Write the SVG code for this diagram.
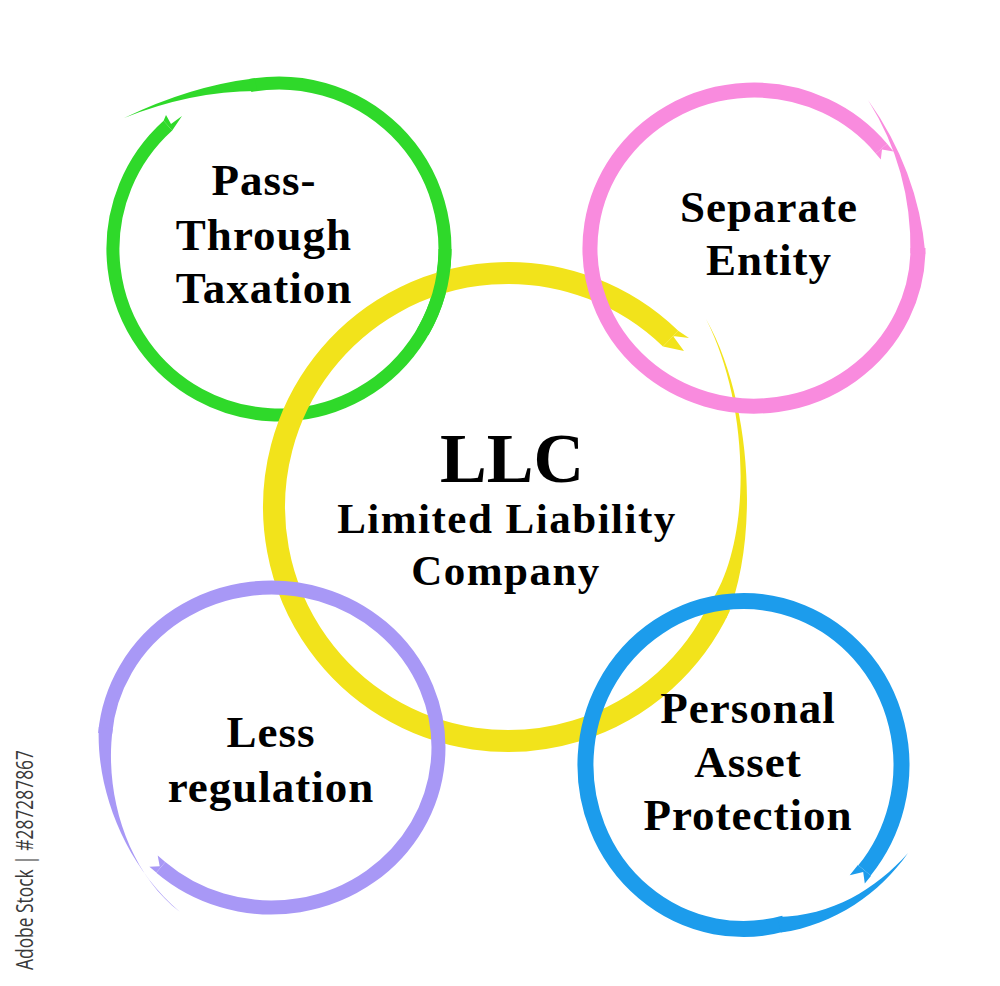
<svg xmlns="http://www.w3.org/2000/svg" width="1000" height="986" viewBox="0 0 1000 986">
<style>
.t{font-family:"Liberation Serif","Times New Roman",serif;font-weight:bold;fill:#000;text-anchor:middle;font-size:45px;letter-spacing:1px}
.ring{fill:none;stroke-linecap:butt}
.g{stroke:#2fd92a}.gf{fill:#2fd92a}
.p{stroke:#f98bde}.pf{fill:#f98bde}
.y{stroke:#f2e31b}.yf{fill:#f2e31b}
.v{stroke:#a898f6}.vf{fill:#a898f6}
.b{stroke:#1c9cec}.bf{fill:#1c9cec}
</style>
<rect width="1000" height="986" fill="#fff"/>

<g id="node-pass-through">
  <path class="ring g" stroke-width="13" d="M250.2,85.5 A166,166 0 1 1 167.9,125.6"/>
  <path class="gf" d="M255,78.2 Q190,86 124,118 Q192,91 256.8,91.05 Z"/>
  <polygon class="gf" points="163.6,120.8 166,115 171,124 182,116 172.2,130.4"/>
  <text class="t" x="264" y="195">Pass-</text>
  <text class="t" x="264" y="250">Through</text>
  <text class="t" x="264" y="303">Taxation</text>
</g>

<g id="node-llc">
  <path class="ring y" stroke-width="22" d="M720.1,605.9 A234,234 0 1 1 670.6,338.7"/>
  <path class="yf" d="M726.3,618.2 C760,540 752,400 706,319 C750,405 754,545 706.7,608.2 Z"/>
  <polygon class="yf" points="678.2,330.8 689,338 673,336 684,351 663,346.6"/>
  <text class="t" x="512" y="482" style="font-size:70px;letter-spacing:0">LLC</text>
  <text class="t" x="507" y="533" style="font-size:43px;letter-spacing:1.5px">Limited Liability</text>
  <text class="t" x="506" y="585" style="font-size:43px;letter-spacing:1.5px">Company</text>
</g>

<g id="overlap-green-over-yellow">
  <path class="ring g" stroke-width="13" d="M445,249 A166,166 0 0 1 422.8,332"/>
</g>

<g id="node-separate-entity">
  <path class="ring p" stroke-width="15" d="M918,248 A164,158 0 1 1 881.4,148.6"/>
  <path class="pf" d="M925.4,253.8 Q918,170 868,100 Q912,170 910.4,253.3 Z"/>
  <polygon class="pf" points="887.1,143.8 893.5,151.5 882,149.4 880.8,159.5 875.7,153.4"/>
  <text class="t" x="769" y="222">Separate</text>
  <text class="t" x="769" y="275">Entity</text>
</g>

<g id="node-less-regulation">
  <path class="ring v" stroke-width="14" d="M105.1,733.6 A167,160 0 1 1 160.8,867.3"/>
  <path class="vf" d="M98.8,727.1 C96,790 125,865 180,912 C128,872 104,795 112.7,728.9 Z"/>
  <polygon class="vf" points="156.3,872.6 149.4,866.8 159.7,866.3 157.7,855.5 165.3,862"/>
  <text class="t" x="271" y="747">Less</text>
  <text class="t" x="271" y="802">regulation</text>
</g>

<g id="node-personal-asset-protection">
  <path class="ring b" stroke-width="16" d="M784.4,923.4 A158,164 0 1 1 864.5,870.4"/>
  <path class="bf" d="M780.8,932.6 C835,925 880,893 908,853 C876,889 832,916 777.3,917 Z"/>
  <polygon class="bf" points="871.1,875.7 864.8,883.5 863.2,872 849.7,875.2 857.9,865.1"/>
  <text class="t" x="748" y="723">Personal</text>
  <text class="t" x="748" y="777">Asset</text>
  <text class="t" x="748" y="830">Protection</text>
</g>

<g id="connectors"/>

<text transform="translate(33,970) rotate(-90)" font-family="'Open Sans',sans-serif" font-size="24" fill="#3a3a3a" textLength="220" lengthAdjust="spacingAndGlyphs">Adobe Stock | #287287867</text>
</svg>
